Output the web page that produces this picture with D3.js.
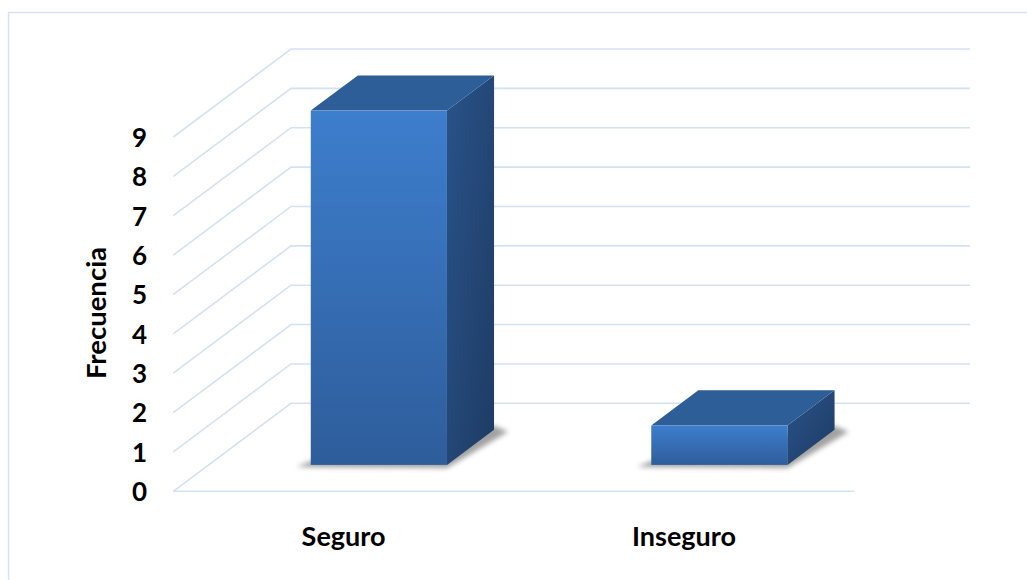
<!DOCTYPE html>
<html>
<head>
<meta charset="utf-8">
<script src="https://cdn.jsdelivr.net/npm/d3@7"></script>
<style>
  html, body { margin: 0; padding: 0; background: #ffffff; }
  svg { display: block; }
  text { font-family: Lato, "Open Sans", sans-serif; font-weight: 700; fill: #000; }
</style>
</head>
<body>
<svg id="chart" width="1027" height="580"></svg>
<script>
// ---- data ----
const categories = ["Seguro", "Inseguro"];
const values = [9, 1];
const yTicks = [0, 1, 2, 3, 4, 5, 6, 7, 8, 9];
const yTitle = "Frecuencia";

// ---- layout ----
const W = 1027, H = 580;
const frontLeft = 173.3, frontRight = 854.3;
const frontBottom = 491.3, frontTop9 = 137;
const depthDX = 117.7, depthDY = -88;
const barFront = 0.3, barBack = 0.7;
const backRight = 970;

const svg = d3.select("#chart");

const y = d3.scaleLinear().domain([0, 9]).range([frontBottom, frontTop9]);
const x = d3.scaleBand().domain(categories).range([frontLeft, frontRight])
  .paddingInner(0.6).paddingOuter(0.3);

// projection helper: (front-plane x, value, depth fraction) -> screen
const P = (fx, v, d) => [fx + d * depthDX, y(v) + d * depthDY];

const defs = svg.append("defs");
const gFront = defs.append("linearGradient").attr("id", "gFront")
  .attr("x1", 0).attr("y1", 0).attr("x2", 0).attr("y2", 1);
gFront.append("stop").attr("offset", 0).attr("stop-color", "#3d7ecd");
gFront.append("stop").attr("offset", 1).attr("stop-color", "#2e5d9b");
const gSide = defs.append("linearGradient").attr("id", "gSide")
  .attr("x1", 0).attr("y1", 0).attr("x2", 1).attr("y2", 1);
gSide.append("stop").attr("offset", 0).attr("stop-color", "#29538a");
gSide.append("stop").attr("offset", 1).attr("stop-color", "#1e3b63");
const blur = defs.append("filter").attr("id", "blur")
  .attr("x", "-50%").attr("y", "-50%").attr("width", "200%").attr("height", "200%");
blur.append("feGaussianBlur").attr("stdDeviation", 2.5);

// outer border
svg.append("rect").attr("x", 8.5).attr("y", 12.5)
  .attr("width", W + 20).attr("height", H + 20)
  .attr("fill", "#ffffff").attr("stroke", "#d6e2f1").attr("stroke-width", 1.5);

// gridlines
const grid = svg.append("g").attr("stroke", "#d3e1f3").attr("stroke-width", 1.6).attr("fill", "none");
const line = d3.line();
yTicks.forEach(v => {
  const a = P(frontLeft, v, 0), b = P(frontLeft, v, 1);
  grid.append("path").attr("d", line([a, b, [backRight, b[1]]]));
});
grid.append("path").attr("d", line([P(frontLeft, 0, 0), P(frontRight, 0, 0)]));

// bars
const bars = svg.append("g");
categories.forEach((c, i) => {
  const v = values[i];
  const x0 = x(c), x1 = x(c) + x.bandwidth();
  const g = bars.append("g");
  // shadow on floor
  const s0 = P(x0, 0, barFront), s1 = P(x1, 0, barFront), s2 = P(x1, 0, barBack);
  g.append("path")
    .attr("d", line([[s0[0] - 14, s0[1] + 2], [s1[0], s1[1] + 3], [s2[0] + 14, s2[1] + 2], [s2[0], s2[1] - 4], [s0[0], s0[1] - 4]]) + "Z")
    .attr("fill", "#8a8a8a").attr("opacity", 0.8).attr("filter", "url(#blur)");
  // side face
  g.append("path")
    .attr("d", line([P(x1, 0, barFront), P(x1, v, barFront), P(x1, v, barBack), P(x1, 0, barBack)]) + "Z")
    .attr("fill", "url(#gSide)");
  // top face
  g.append("path")
    .attr("d", line([P(x0, v, barFront), P(x1, v, barFront), P(x1, v, barBack), P(x0, v, barBack)]) + "Z")
    .attr("fill", "#2d5e97");
  // front face
  const f0 = P(x0, v, barFront), f1 = P(x1, 0, barFront);
  g.append("rect").attr("x", f0[0]).attr("y", f0[1])
    .attr("width", f1[0] - f0[0]).attr("height", f1[1] - f0[1])
    .attr("fill", "url(#gFront)");
});

// y axis tick labels
const yAxis = d3.axisLeft(y).tickValues(yTicks).tickSize(0).tickPadding(0).tickFormat(d3.format("d"));
const ya = svg.append("g").attr("transform", "translate(147,0)").call(yAxis);
ya.select(".domain").remove();
ya.selectAll("text").attr("font-family", "Lato, 'Open Sans', sans-serif")
  .attr("font-weight", 700).attr("font-size", 26).attr("fill", "#000").attr("dy", "0.36em");

// category labels
svg.append("g").selectAll("text").data(categories).join("text")
  .attr("x", d => x(d) + x.bandwidth() / 2)
  .attr("y", 546)
  .attr("text-anchor", "middle")
  .attr("font-size", 27)
  .text(d => d);

// axis title
svg.append("text")
  .attr("transform", "translate(105.5,313) rotate(-90)")
  .attr("text-anchor", "middle")
  .attr("font-size", 27.5)
  .text(yTitle);
</script>
</body>
</html>
